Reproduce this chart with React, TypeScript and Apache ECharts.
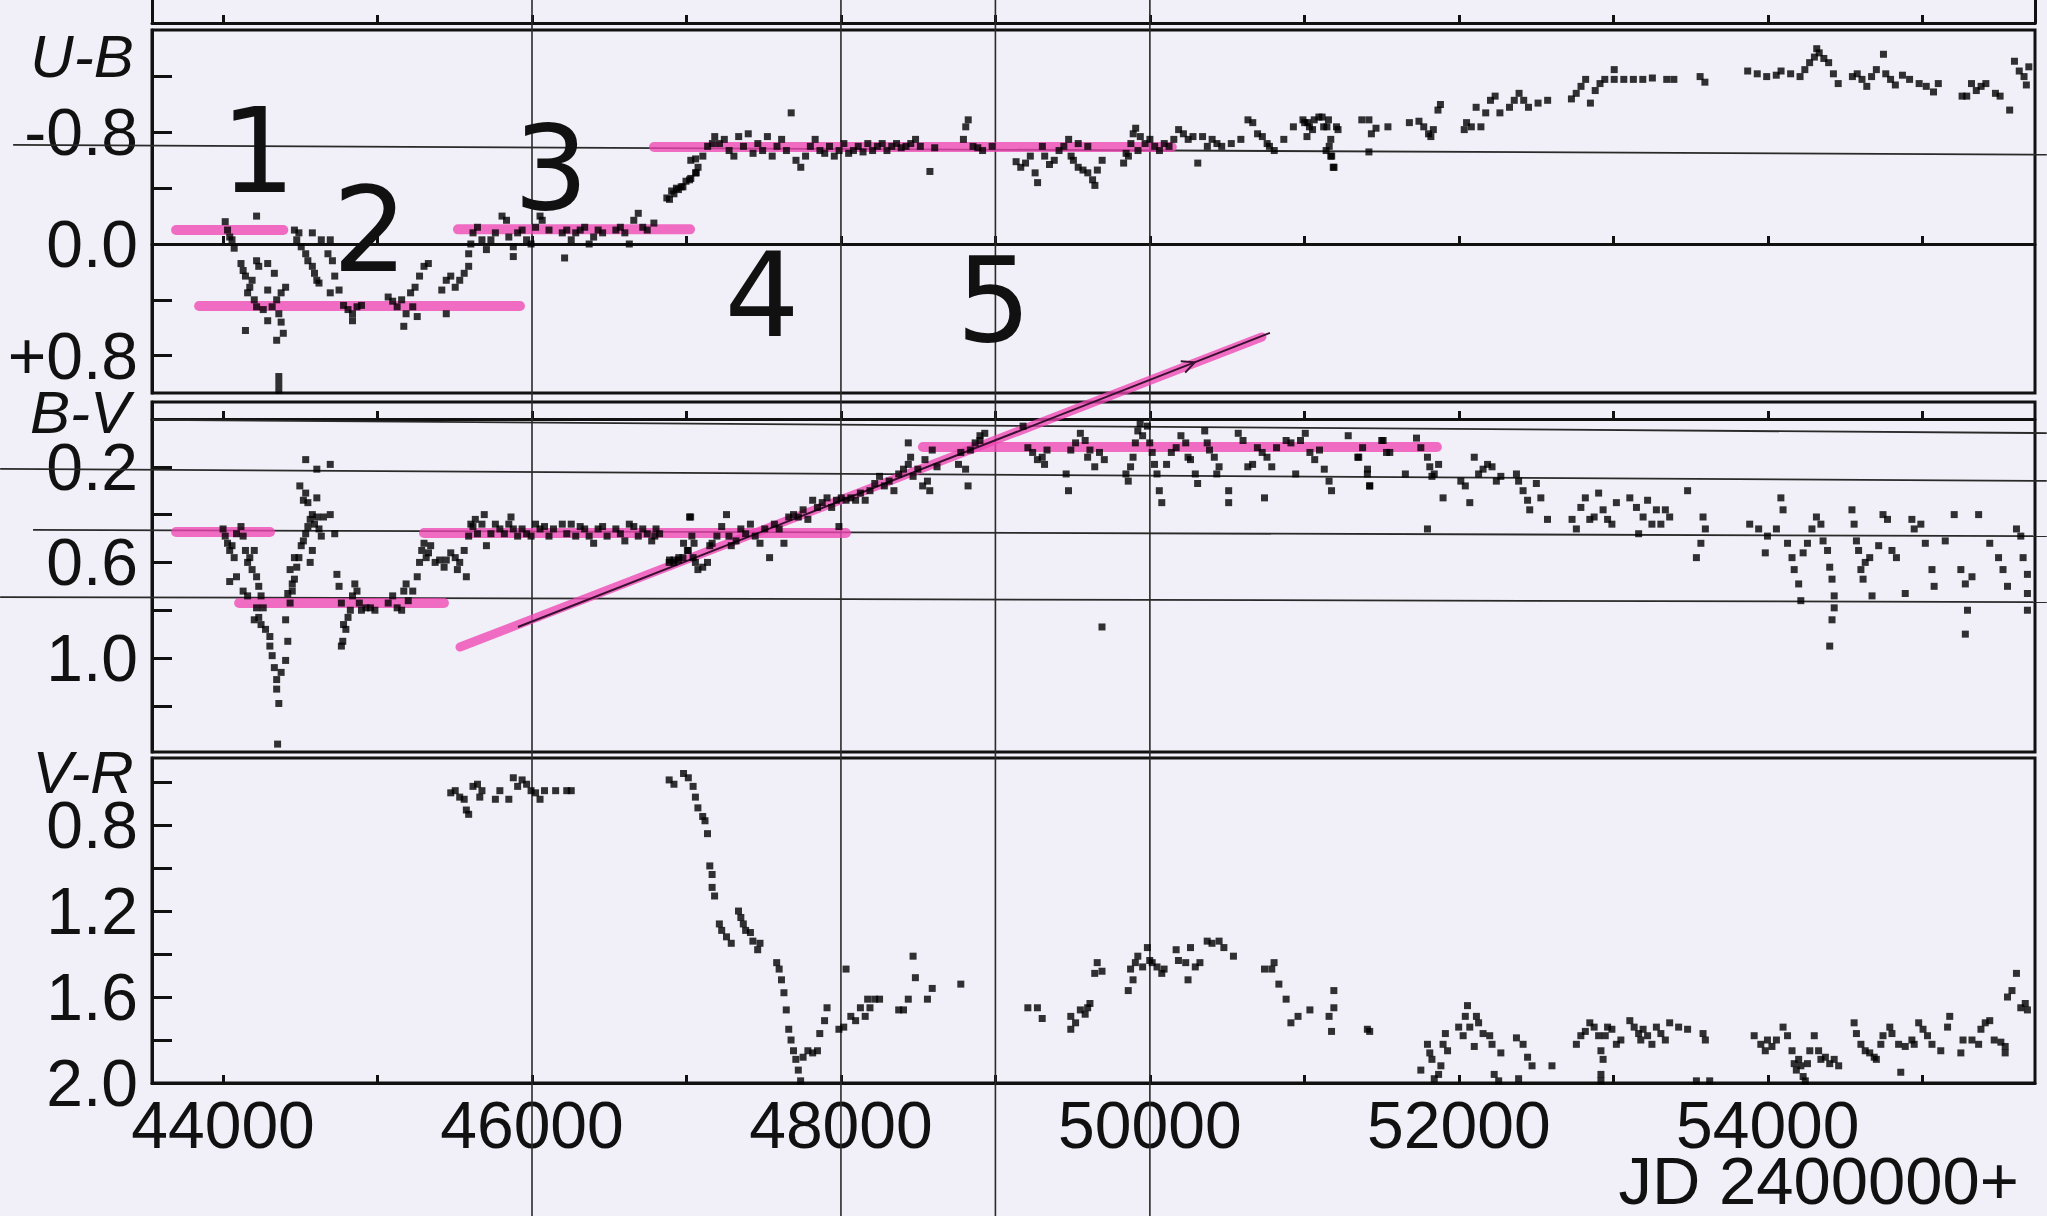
import React, { useEffect, useRef } from "react";
import * as echarts from "echarts";

// ---------- axes ----------
const X_MIN = 43540;
const X_MAX = 55730;
const xTickValues = [44000, 45000, 46000, 47000, 48000, 49000, 50000, 51000, 52000, 53000, 54000, 55000];
const xLabelValues = [44000, 46000, 48000, 50000, 52000, 54000];

const ubRange = [-1.534, 1.068];
const ubTicks = [-1.2, -0.8, -0.4, 0, 0.4, 0.8];
const ubLabels = [-0.8, 0, 0.8];
const bvRange = [-0.071, 1.393];
const bvTicks = [0, 0.2, 0.4, 0.6, 0.8, 1.0, 1.2];
const bvLabels = [0.2, 0.6, 1.0];
const vrRange = [0.488, 2.0];
const vrTicks = [0.6, 0.8, 1.0, 1.2, 1.4, 1.6, 1.8, 2.0];
const vrLabels = [0.8, 1.2, 1.6, 2.0];

// ---------- U-B data [JD-2400000, U-B] ----------
const ubEarly = [
  [44014, -0.16], [44029, -0.1], [44043, -0.05], [44058, -0.03], [44072, 0.03], [44217, -0.2], [44116, 0.14], [44130, 0.19],
  [44145, 0.23], [44173, 0.31], [44159, 0.35], [44202, 0.4], [44217, 0.45], [44145, 0.62], [44260, 0.47], [44289, 0.55],
  [44318, 0.45], [44347, 0.4], [44376, 0.35], [44405, 0.31], [44361, 0.5], [44376, 0.56], [44390, 0.64], [44347, 0.69],
  [44361, 0.95], [44361, 1.0], [44361, 1.05], [44231, 0.16], [44217, 0.12], [44289, 0.14], [44332, 0.21], [44188, 0.26],
  [44289, 0.33], [44462, -0.1], [44491, -0.08], [44477, -0.03], [44506, 0.02], [44535, 0.07], [44549, 0.12], [44578, 0.16],
  [44592, 0.21], [44607, 0.26], [44621, 0.28], [44578, -0.08], [44636, -0.03], [44694, -0.03], [44679, 0.07], [44708, 0.12],
  [44723, 0.23], [44694, 0.35], [44751, 0.33], [44780, 0.44], [44809, 0.47], [44838, 0.5], [44867, 0.45], [44896, 0.44],
  [44838, 0.55], [45069, 0.38], [45098, 0.41], [45127, 0.45], [45156, 0.4], [45185, 0.5], [45214, 0.35], [45243, 0.31],
  [45272, 0.23], [45301, 0.16], [45329, 0.14], [45228, 0.45], [45257, 0.52], [45170, 0.59], [45416, 0.33], [45445, 0.26],
  [45474, 0.23], [45503, 0.31], [45532, 0.26], [45561, 0.21], [45590, 0.16], [45445, 0.5], [45590, 0.07], [45604, 0.0],
  [45618, -0.08], [45647, -0.12], [45676, -0.03], [45705, 0.04], [45734, -0.03], [45763, -0.08], [45806, -0.2], [45835, -0.17],
  [45850, -0.05], [45879, 0.02], [45907, -0.08], [45936, -0.1], [45965, -0.03], [45994, 0.0], [46023, -0.12], [46052, -0.2],
  [46066, -0.17], [46110, -0.1], [46196, -0.08], [46225, -0.1], [46254, -0.03], [46283, -0.08], [46312, -0.1], [46341, -0.12],
  [46370, 0.0], [46399, -0.05], [46428, -0.1], [46457, -0.08], [46543, -0.1], [46572, -0.12], [46601, -0.08], [46630, 0.0],
  [46659, -0.17], [46688, -0.22], [46717, -0.12], [46746, -0.1], [46789, -0.15], [46211, 0.1], [45879, 0.09],
];
const ubMid = [
  [46890, -0.32], [46919, -0.36], [46948, -0.39], [46977, -0.41], [47020, -0.46], [47063, -0.51],
  [46873, -0.33], [46904, -0.38], [46935, -0.4], [46966, -0.41], [46997, -0.45], [47028, -0.47], [47059, -0.51], [47075, -0.55],
  [47028, -0.6], [47059, -0.61], [47106, -0.63], [47137, -0.7], [47183, -0.77], [47168, -0.72], [47214, -0.72], [47245, -0.75],
  [47276, -0.67], [47307, -0.63], [47338, -0.77], [47369, -0.7], [47400, -0.79], [47431, -0.65], [47462, -0.72], [47493, -0.67],
  [47524, -0.77], [47555, -0.63], [47586, -0.7], [47616, -0.75], [47647, -0.67], [47678, -0.94], [47709, -0.6], [47740, -0.55],
  [47771, -0.63], [47802, -0.7], [47833, -0.75], [47864, -0.67], [47895, -0.65], [47926, -0.7], [47957, -0.63], [47988, -0.67],
  [48019, -0.72], [48050, -0.65], [48081, -0.67], [48112, -0.7], [48143, -0.66], [48174, -0.72], [48205, -0.67], [48236, -0.7],
  [48267, -0.72], [48298, -0.67], [48329, -0.7], [48360, -0.72], [48390, -0.69], [48421, -0.7], [48452, -0.72], [48483, -0.75],
  [48514, -0.7], [48576, -0.52], [48607, -0.69], [48793, -0.75], [48808, -0.84], [48824, -0.89], [48855, -0.7], [48886, -0.69],
  [48917, -0.67], [48979, -0.7], [49134, -0.59], [49164, -0.55], [49195, -0.58], [49226, -0.63], [49257, -0.51], [49273, -0.44],
  [49304, -0.7], [49319, -0.63], [49350, -0.57], [49381, -0.6], [49412, -0.67], [49443, -0.7], [49474, -0.75], [49490, -0.63],
  [49505, -0.6], [49536, -0.55], [49567, -0.53], [49598, -0.51], [49629, -0.46], [49644, -0.42], [49660, -0.53], [49691, -0.6],
  [49536, -0.72], [49598, -0.7], [49830, -0.58], [49846, -0.65], [49877, -0.72], [49892, -0.79], [49908, -0.83], [49938, -0.77],
  [49969, -0.72], [50000, -0.75], [50031, -0.7], [50062, -0.67], [50093, -0.72], [50124, -0.7], [50155, -0.75], [49861, -0.63],
  [49923, -0.67], [50186, -0.82], [50217, -0.79], [50248, -0.75], [50279, -0.77], [50310, -0.58], [50341, -0.77], [50372, -0.7],
  [50403, -0.75], [50434, -0.72], [50465, -0.7], [50527, -0.72], [50589, -0.75], [50635, -0.89], [50666, -0.87], [50697, -0.79],
  [50728, -0.77], [50759, -0.72], [50774, -0.7], [50805, -0.67], [50867, -0.75], [50929, -0.84], [50991, -0.89], [51022, -0.87],
  [51053, -0.82], [51115, -0.91], [51146, -0.84], [51161, -0.7], [51177, -0.63], [51192, -0.55], [51208, -0.84],
];
const ubLate = [
  [51002, -0.87], [51033, -0.84], [51017, -0.77], [51064, -0.89], [51094, -0.91], [51125, -0.84], [51141, -0.67], [51171, -0.63],
  [51187, -0.55], [51156, -0.89], [51171, -0.75], [51218, -0.82], [51372, -0.89], [51418, -0.89], [51434, -0.79], [51418, -0.66],
  [51464, -0.83], [51541, -0.84], [51680, -0.87], [51742, -0.88], [51773, -0.84], [51804, -0.79], [51835, -0.82], [51865, -0.96],
  [51881, -1.0], [51819, -0.77], [52035, -0.82], [52050, -0.87], [52081, -0.84], [52112, -0.98], [52143, -0.84], [52174, -0.94],
  [52205, -1.03], [52235, -1.06], [52266, -0.94], [52328, -0.98], [52359, -1.03], [52390, -1.08], [52420, -1.03], [52451, -0.98],
  [52513, -1.01], [52575, -1.03], [52729, -1.04], [52760, -1.08], [52791, -1.13], [52821, -1.18], [52852, -1.01], [52883, -1.1],
  [52914, -1.15], [52945, -1.18], [53006, -1.25], [53006, -1.18], [53068, -1.18], [53130, -1.18], [53191, -1.18], [53253, -1.19],
  [53346, -1.18], [53392, -1.18], [53562, -1.2], [53593, -1.16], [53870, -1.24], [53932, -1.22], [53993, -1.2], [54055, -1.21],
  [54086, -1.24], [54148, -1.22], [54209, -1.2], [54240, -1.25], [54271, -1.3], [54302, -1.34], [54317, -1.4], [54333, -1.37],
  [54363, -1.33], [54394, -1.3], [54425, -1.22], [54456, -1.15], [54548, -1.2], [54579, -1.22], [54610, -1.18], [54641, -1.13],
  [54672, -1.2], [54703, -1.25], [54749, -1.36], [54764, -1.22], [54795, -1.18], [54826, -1.14], [54872, -1.21], [54918, -1.18],
  [54980, -1.15], [55026, -1.13], [55073, -1.09], [55104, -1.15], [55258, -1.06], [55288, -1.06], [55319, -1.15], [55350, -1.1],
  [55381, -1.13], [55412, -1.15], [55474, -1.08], [55504, -1.06], [55566, -0.96], [55597, -1.31], [55628, -1.24], [55659, -1.2],
  [55690, -1.27], [55674, -1.14],
];

// ---------- B-V data ----------
const bvEarly = [
  [44000, 0.46], [44014, 0.49], [44029, 0.52], [44043, 0.55], [44058, 0.53], [44072, 0.58], [44087, 0.48], [44116, 0.45],
  [44130, 0.49], [44145, 0.55], [44159, 0.6], [44173, 0.58], [44188, 0.63], [44202, 0.55], [44217, 0.66], [44231, 0.7],
  [44246, 0.74], [44260, 0.79], [44217, 0.79], [44043, 0.68], [44087, 0.66], [44130, 0.72], [44159, 0.74], [44202, 0.84],
  [44231, 0.83], [44246, 0.86], [44275, 0.88], [44303, 0.91], [44303, 0.95], [44318, 0.99], [44332, 1.04], [44347, 1.09],
  [44347, 1.13], [44361, 1.19], [44353, 1.36], [44376, 1.06], [44405, 1.01], [44419, 0.93], [44405, 0.84], [44434, 0.77],
  [44448, 0.72], [44462, 0.67], [44477, 0.62], [44491, 0.58], [44506, 0.53], [44520, 0.51], [44535, 0.48], [44549, 0.45],
  [44564, 0.42], [44578, 0.4], [44592, 0.44], [44607, 0.41], [44621, 0.46], [44636, 0.49], [44650, 0.41], [44694, 0.4],
  [44723, 0.48], [44520, 0.34], [44535, 0.31], [44549, 0.35], [44607, 0.33], [44497, 0.28], [44535, 0.17], [44607, 0.21],
  [44694, 0.19], [44564, 0.6], [44578, 0.55], [44462, 0.58], [44434, 0.63], [44448, 0.69], [44419, 0.73], [44737, 0.65],
  [44751, 0.7], [44766, 0.77], [44780, 0.86], [44795, 0.88], [44775, 0.93], [44766, 0.95], [44809, 0.83], [44824, 0.8],
  [44838, 0.74], [44853, 0.69], [44867, 0.72], [44882, 0.77], [44896, 0.8], [44925, 0.79], [44954, 0.79], [44983, 0.8],
  [45069, 0.77], [45098, 0.74], [45127, 0.79], [45156, 0.8], [45170, 0.72], [45185, 0.69], [45199, 0.76], [45228, 0.72],
  [45257, 0.66], [45272, 0.6], [45286, 0.55], [45301, 0.52], [45315, 0.58], [45330, 0.56], [45344, 0.53], [45373, 0.6],
  [45402, 0.59], [45431, 0.62], [45445, 0.59], [45474, 0.56], [45503, 0.58], [45517, 0.63], [45532, 0.6], [45561, 0.55],
  [45575, 0.66], [45590, 0.49], [45604, 0.44], [45618, 0.45], [45633, 0.42], [45647, 0.48], [45676, 0.44], [45691, 0.4],
  [45705, 0.53], [45734, 0.48], [45763, 0.44], [45792, 0.46], [45821, 0.48], [45850, 0.44], [45864, 0.41], [45879, 0.46],
  [45907, 0.49], [45936, 0.46], [45965, 0.48], [45994, 0.49], [46023, 0.44], [46052, 0.46], [46081, 0.45], [46110, 0.49],
  [46139, 0.46], [46196, 0.44], [46225, 0.48], [46254, 0.44], [46283, 0.49], [46312, 0.45], [46341, 0.46], [46370, 0.49],
  [46399, 0.52], [46428, 0.46], [46457, 0.45], [46486, 0.49], [46543, 0.46], [46572, 0.48], [46601, 0.51], [46630, 0.44],
  [46659, 0.45], [46688, 0.49], [46717, 0.46], [46746, 0.48], [46775, 0.51], [46803, 0.46], [46890, 0.59], [46919, 0.6],
  [46948, 0.59], [46977, 0.58], [47006, 0.55], [47020, 0.41], [47035, 0.49], [47049, 0.52],
];
const bvMid = [
  [46795, 0.49], [46826, 0.48], [46888, 0.6], [46919, 0.59], [46950, 0.58], [46981, 0.52], [47012, 0.55], [47027, 0.41],
  [47043, 0.58], [47058, 0.6], [47074, 0.63], [47105, 0.62], [47136, 0.6], [47151, 0.53], [47166, 0.52], [47197, 0.49],
  [47228, 0.45], [47259, 0.4], [47275, 0.49], [47290, 0.53], [47321, 0.51], [47352, 0.46], [47383, 0.48], [47414, 0.44],
  [47445, 0.49], [47476, 0.52], [47507, 0.46], [47538, 0.58], [47569, 0.44], [47600, 0.46], [47631, 0.52], [47662, 0.41],
  [47693, 0.4], [47724, 0.41], [47755, 0.38], [47786, 0.42], [47817, 0.34], [47848, 0.37], [47879, 0.35], [47910, 0.33],
  [47940, 0.37], [47971, 0.34], [47987, 0.45], [48002, 0.33], [48033, 0.34], [48064, 0.33], [48095, 0.34], [48126, 0.31],
  [48157, 0.34], [48188, 0.3], [48219, 0.27], [48250, 0.24], [48281, 0.28], [48312, 0.26], [48343, 0.3], [48374, 0.23],
  [48405, 0.21], [48436, 0.19], [48451, 0.16], [48467, 0.24], [48498, 0.21], [48529, 0.28], [48544, 0.17], [48560, 0.26],
  [48575, 0.3], [48591, 0.13], [48622, 0.2], [48436, 0.1], [48761, 0.19], [48776, 0.14], [48807, 0.21], [48823, 0.28],
  [48838, 0.13], [48869, 0.1], [48900, 0.07], [48931, 0.06], [48900, 0.09], [49179, 0.03], [49210, 0.12], [49241, 0.14],
  [49272, 0.17], [49303, 0.16], [49318, 0.19], [49334, 0.13], [49458, 0.23], [49473, 0.3], [49488, 0.13], [49519, 0.1],
  [49550, 0.06], [49581, 0.09], [49597, 0.16], [49612, 0.13], [49643, 0.2], [49674, 0.14], [49705, 0.17], [49845, 0.23],
  [49860, 0.26], [49875, 0.2], [49891, 0.16], [49906, 0.1], [49922, 0.05], [49937, 0.02], [49953, 0.07], [49984, 0.03],
  [49999, 0.1], [50015, 0.14], [50030, 0.19], [50046, 0.23], [50061, 0.3], [50077, 0.35], [50108, 0.19], [50139, 0.14],
  [50170, 0.12], [50201, 0.07], [50232, 0.1], [50247, 0.16], [50263, 0.17], [50294, 0.23], [50309, 0.27], [50355, 0.05],
  [50371, 0.1], [50386, 0.13], [50417, 0.16], [50433, 0.23], [50448, 0.2], [50510, 0.3], [50510, 0.35], [50572, 0.06],
  [50603, 0.09], [50634, 0.2], [50665, 0.19], [50696, 0.12], [50727, 0.14], [50742, 0.33], [50758, 0.16], [50789, 0.2],
  [50820, 0.12], [50882, 0.09], [50913, 0.1], [50944, 0.23], [50975, 0.09], [51006, 0.06], [51036, 0.14], [51067, 0.17],
  [51098, 0.13], [51129, 0.21], [51160, 0.26], [51176, 0.3], [51284, 0.07], [51346, 0.16], [51377, 0.12], [51408, 0.23],
  [51423, 0.28], [51501, 0.09], [51532, 0.14], [49690, 0.87],
];
const bvLate = [
  [51352, 0.16], [51409, 0.21], [51423, 0.28], [51510, 0.09], [51553, 0.14], [51654, 0.23], [51726, 0.08], [51754, 0.12],
  [51797, 0.16], [51812, 0.2], [51841, 0.23], [51869, 0.19], [51826, 0.24], [51797, 0.46], [51898, 0.33], [52013, 0.26],
  [52042, 0.28], [52071, 0.35], [52100, 0.16], [52128, 0.23], [52157, 0.21], [52186, 0.19], [52215, 0.2], [52243, 0.26],
  [52272, 0.24], [52373, 0.23], [52387, 0.26], [52416, 0.3], [52445, 0.34], [52459, 0.38], [52502, 0.27], [52531, 0.33],
  [52574, 0.42], [52733, 0.42], [52761, 0.46], [52790, 0.37], [52819, 0.33], [52848, 0.42], [52876, 0.41], [52905, 0.31],
  [52934, 0.38], [52963, 0.42], [52991, 0.44], [53020, 0.35], [53107, 0.33], [53150, 0.37], [53164, 0.48], [53193, 0.41],
  [53222, 0.34], [53250, 0.44], [53279, 0.38], [53308, 0.44], [53337, 0.38], [53365, 0.41], [53481, 0.3], [53581, 0.41],
  [53596, 0.46], [53567, 0.52], [53538, 0.58], [53883, 0.44], [53941, 0.46], [53984, 0.56], [53998, 0.49], [54056, 0.46],
  [54085, 0.33], [54099, 0.38], [54128, 0.52], [54157, 0.58], [54171, 0.63], [54200, 0.69], [54214, 0.76], [54229, 0.56],
  [54257, 0.52], [54286, 0.46], [54315, 0.41], [54344, 0.44], [54358, 0.51], [54387, 0.55], [54401, 0.62], [54416, 0.67],
  [54430, 0.74], [54430, 0.79], [54416, 0.84], [54401, 0.95], [54545, 0.38], [54559, 0.44], [54574, 0.51], [54588, 0.55],
  [54603, 0.63], [54617, 0.67], [54631, 0.6], [54660, 0.58], [54675, 0.74], [54718, 0.53], [54746, 0.4], [54775, 0.42],
  [54804, 0.55], [54833, 0.58], [54890, 0.73], [54933, 0.42], [54948, 0.46], [54991, 0.44], [55020, 0.52], [55063, 0.63],
  [55077, 0.7], [55149, 0.51], [55207, 0.4], [55250, 0.63], [55279, 0.69], [55293, 0.8], [55279, 0.9], [55322, 0.66],
  [55365, 0.4], [55437, 0.52], [55494, 0.58], [55523, 0.63], [55552, 0.7], [55610, 0.46], [55638, 0.49], [55653, 0.58],
  [55681, 0.65], [55681, 0.73], [55681, 0.8],
];

// ---------- V-R data ----------
const vrEarly = [
  [45474, 0.65], [45503, 0.64], [45532, 0.67], [45561, 0.68], [45575, 0.73], [45590, 0.75], [45618, 0.62], [45647, 0.61],
  [45662, 0.67], [45676, 0.64], [45763, 0.68], [45792, 0.64], [45850, 0.68], [45879, 0.58], [45907, 0.62], [45936, 0.59],
  [45965, 0.61], [45994, 0.64], [46023, 0.65], [46052, 0.68], [46081, 0.64], [46153, 0.64], [46225, 0.64], [46254, 0.64],
];
const vrMid = [
  [46888, 0.59], [46919, 0.61], [46981, 0.56], [47012, 0.58], [47043, 0.62], [47058, 0.67], [47074, 0.72], [47105, 0.76],
  [47120, 0.78], [47136, 0.84], [47151, 0.99], [47166, 1.03], [47166, 1.09], [47182, 1.13], [47213, 1.26], [47228, 1.29],
  [47259, 1.32], [47290, 1.35], [47337, 1.2], [47352, 1.23], [47368, 1.26], [47383, 1.29], [47414, 1.3], [47430, 1.34],
  [47461, 1.38], [47476, 1.35], [47584, 1.44], [47600, 1.47], [47615, 1.52], [47631, 1.58], [47646, 1.66], [47662, 1.75],
  [47677, 1.8], [47693, 1.85], [47708, 1.89], [47724, 1.94], [47739, 1.99], [47755, 1.88], [47786, 1.85], [47817, 1.86],
  [47848, 1.85], [47863, 1.77], [47894, 1.71], [47910, 1.65], [47987, 1.75], [48018, 1.74], [48033, 1.47], [48064, 1.69],
  [48095, 1.71], [48126, 1.65], [48157, 1.69], [48173, 1.61], [48188, 1.65], [48219, 1.61], [48250, 1.61], [48374, 1.66],
  [48405, 1.66], [48436, 1.61], [48467, 1.41], [48482, 1.51], [48560, 1.61], [48591, 1.56], [48776, 1.54], [49210, 1.65],
  [49272, 1.65], [49303, 1.7], [49488, 1.69], [49488, 1.75], [49519, 1.72], [49550, 1.66], [49581, 1.68], [49597, 1.65],
  [49612, 1.63], [49643, 1.49], [49659, 1.44], [49690, 1.48], [49860, 1.57], [49891, 1.52], [49875, 1.47], [49906, 1.44],
  [49922, 1.41], [49953, 1.46], [49984, 1.37], [49999, 1.43], [50015, 1.44], [50046, 1.46], [50077, 1.49], [50092, 1.47],
  [50170, 1.38], [50185, 1.43], [50232, 1.44], [50247, 1.52], [50263, 1.37], [50294, 1.46], [50324, 1.44], [50371, 1.34],
  [50402, 1.35], [50448, 1.34], [50479, 1.37], [50541, 1.41], [50742, 1.47], [50789, 1.47], [50804, 1.44], [50835, 1.54],
  [50882, 1.61], [50913, 1.72], [50959, 1.69], [51036, 1.66], [51160, 1.69], [51176, 1.76], [51191, 1.57], [51191, 1.65],
  [51408, 1.75], [51423, 1.76],
];
const vrLate = [
  [51754, 1.94], [51797, 1.82], [51812, 1.86], [51826, 1.89], [51841, 1.98], [51869, 1.96], [51884, 1.92], [51898, 1.82],
  [51913, 1.77], [51927, 1.85], [51999, 1.74], [52028, 1.78], [52042, 1.69], [52056, 1.64], [52071, 1.74], [52100, 1.83],
  [52114, 1.69], [52128, 1.72], [52157, 1.77], [52200, 1.78], [52215, 1.82], [52229, 1.96], [52258, 1.99], [52272, 1.86],
  [52373, 1.79], [52387, 1.98], [52416, 1.82], [52445, 1.88], [52474, 1.92], [52603, 1.92], [52761, 1.82], [52790, 1.78],
  [52819, 1.76], [52848, 1.72], [52876, 1.74], [52905, 1.78], [52920, 1.85], [52934, 1.89], [52920, 1.96], [52920, 1.99],
  [52948, 1.78], [52963, 1.74], [52991, 1.75], [53020, 1.82], [53049, 1.8], [53107, 1.71], [53135, 1.74], [53164, 1.77],
  [53178, 1.8], [53193, 1.75], [53222, 1.78], [53250, 1.82], [53279, 1.74], [53308, 1.77], [53337, 1.8], [53365, 1.72],
  [53423, 1.74], [53481, 1.75], [53538, 1.99], [53581, 1.77], [53596, 1.8], [53624, 1.99], [53912, 1.78], [53955, 1.82],
  [53984, 1.85], [53998, 1.8], [54027, 1.83], [54056, 1.8], [54099, 1.74], [54128, 1.78], [54157, 1.85], [54171, 1.91],
  [54185, 1.94], [54200, 1.89], [54214, 1.92], [54229, 1.97], [54243, 1.99], [54257, 1.91], [54272, 1.85], [54301, 1.78],
  [54329, 1.85], [54344, 1.89], [54373, 1.88], [54401, 1.91], [54430, 1.89], [54459, 1.92], [54559, 1.72], [54574, 1.77],
  [54603, 1.82], [54631, 1.85], [54660, 1.86], [54689, 1.88], [54703, 1.89], [54732, 1.82], [54746, 1.78], [54790, 1.74],
  [54804, 1.77], [54847, 1.82], [54861, 1.95], [54890, 1.83], [54933, 1.8], [54948, 1.82], [54977, 1.72], [55005, 1.75],
  [55034, 1.78], [55063, 1.82], [55120, 1.85], [55164, 1.74], [55178, 1.69], [55250, 1.86], [55264, 1.8], [55322, 1.8],
  [55365, 1.82], [55380, 1.75], [55408, 1.72], [55437, 1.71], [55466, 1.8], [55509, 1.81], [55537, 1.83], [55537, 1.86],
  [55552, 1.6], [55581, 1.57], [55610, 1.49], [55638, 1.65], [55667, 1.63], [55681, 1.66],
];

// ---------- hand-drawn annotations (in data units) ----------
const guideJD = [46000, 48000, 49000, 50000];
// [panel, jdStart, valueStart, jdEnd, valueEnd]
const ruledLines = [
  [0, 42641, -0.71, 55806, -0.64],
  [1, 43540, 0.004, 55806, 0.059],
  [1, 42557, 0.209, 55806, 0.259],
  [1, 42770, 0.464, 55806, 0.49],
  [1, 42557, 0.745, 55806, 0.766],
];
// [panel, jdStart, jdEnd, level]
const pinkLevels = [
  [0, 43696, 44390, -0.1],
  [0, 43845, 45922, 0.445],
  [0, 45521, 47023, -0.105],
  [0, 46790, 50142, -0.695],
  [1, 43696, 44304, 0.473],
  [1, 44104, 45430, 0.77],
  [1, 45301, 48032, 0.477],
  [1, 48531, 51858, 0.117],
];
const trendPink = [45534, 0.954, 50725, -0.343];
const trendInk = [45909, 0.87, 50777, -0.36];
const phaseNames = ["1", "2", "3", "4", "5"];
const phaseJD = [44227, 44951, 46123, 47489, 48990];
const phaseUB = [-0.667, -0.1, -0.545, 0.366, 0.401];

const INK = "#111111";
const BG = "#f1eff7";
const FONT = "'Liberation Sans', Arial, sans-serif";

function xAxisFor(gridIndex: number, labels: boolean) {
  return {
    type: "value",
    gridIndex,
    min: X_MIN,
    max: X_MAX,
    position: "bottom",
    axisLine: { show: true, lineStyle: { color: INK, width: 3 } },
    axisTick: { show: true, inside: true, length: 8, customValues: xTickValues, lineStyle: { color: INK, width: 3 } },
    axisLabel: {
      show: labels,
      customValues: xLabelValues,
      color: INK,
      fontSize: 66,
      fontFamily: FONT,
      margin: 9,
      formatter: (v: number) => String(v),
    },
    splitLine: { show: false },
  };
}

function yAxisFor(gridIndex: number, range: number[], ticks: number[], labels: number[], signed: boolean) {
  return {
    type: "value",
    gridIndex,
    inverse: true,
    min: range[0],
    max: range[1],
    position: "left",
    axisLine: { show: true, lineStyle: { color: INK, width: 3 } },
    axisTick: { show: true, inside: true, length: 20, customValues: ticks, lineStyle: { color: INK, width: 3 } },
    axisLabel: {
      show: true,
      customValues: labels,
      color: INK,
      fontSize: 66,
      fontFamily: FONT,
      margin: 14,
      formatter: (v: number) => (signed && v > 0 ? "+" : "") + v.toFixed(1),
    },
    splitLine: { show: false },
  };
}

function scatter(idx: number, data: number[][]) {
  return {
    type: "scatter",
    xAxisIndex: idx,
    yAxisIndex: idx,
    data,
    symbol: "rect",
    symbolSize: 7,
    itemStyle: { color: "#000" },
    z: 10,
    silent: true,
  };
}

function edgeAxis(gridIndex: number, position: string) {
  return {
    type: "value",
    gridIndex,
    position,
    min: 0,
    max: 1,
    axisLine: { show: true, onZero: false, lineStyle: { color: INK, width: 3 } },
    axisTick: { show: false },
    axisLabel: { show: false },
    splitLine: { show: false },
  };
}

export default function App() {
  const ref = useRef<HTMLDivElement>(null);
  useEffect(() => {
    const el = ref.current as HTMLDivElement;
    const chart = echarts.init(el, null, { renderer: "svg" });
    const frame = { show: true, borderColor: INK, borderWidth: 3, backgroundColor: "transparent" };
    chart.setOption({
      animation: false,
      backgroundColor: BG,
      grid: [
        { ...frame, left: 152, right: 12, top: 30, height: 363 },
        { ...frame, left: 152, right: 12, top: 402, height: 350 },
        { ...frame, left: 152, right: 12, top: 758, height: 325 },
        { show: false, left: 152, right: 12, top: 0, height: 23 },
      ],
      xAxis: [xAxisFor(0, false), xAxisFor(1, false), xAxisFor(2, true), xAxisFor(3, false)],
      yAxis: [
        yAxisFor(0, ubRange, ubTicks, ubLabels, true),
        yAxisFor(1, bvRange, bvTicks, bvLabels, false),
        yAxisFor(2, vrRange, vrTicks, vrLabels, false),
        edgeAxis(3, "left"),
        edgeAxis(3, "right"),
      ],
      series: [
        scatter(0, [...ubEarly, ...ubMid, ...ubLate]),
        scatter(1, [...bvEarly, ...bvMid, ...bvLate]),
        scatter(2, [...vrEarly, ...vrMid, ...vrLate]),
      ],
    });

    const px = (p: number, jd: number, v: number) =>
      chart.convertToPixel({ xAxisIndex: p, yAxisIndex: p }, [jd, v]) as number[];

    const g: any[] = [];
    guideJD.forEach((jd) => {
      const x = px(2, jd, 1)[0];
      g.push({ type: "line", silent: true, z: 5, shape: { x1: x, y1: 0, x2: x, y2: 1216 }, style: { stroke: "#2a2a2a", lineWidth: 1.6 } });
    });
    ruledLines.forEach(([p, j1, v1, j2, v2]) => {
      const a = px(p, j1, v1);
      const b = px(p, j2, v2);
      g.push({ type: "line", silent: true, z: 5, shape: { x1: a[0], y1: a[1], x2: b[0], y2: b[1] }, style: { stroke: "#2a2a2a", lineWidth: 1.8 } });
    });
    pinkLevels.forEach(([p, j1, j2, v]) => {
      const a = px(p, j1, v);
      const b = px(p, j2, v);
      g.push({ type: "line", silent: true, z: 6, shape: { x1: a[0], y1: a[1], x2: b[0], y2: b[1] }, style: { stroke: "rgba(238,70,180,0.78)", lineWidth: 10, lineCap: "round" } });
    });
    {
      const a = px(1, trendPink[0], trendPink[1]);
      const b = px(1, trendPink[2], trendPink[3]);
      g.push({ type: "line", silent: true, z: 6, shape: { x1: a[0], y1: a[1], x2: b[0], y2: b[1] }, style: { stroke: "rgba(238,70,180,0.78)", lineWidth: 9, lineCap: "round" } });
      const c = px(1, trendInk[0], trendInk[1]);
      const d = px(1, trendInk[2], trendInk[3]);
      g.push({ type: "line", silent: true, z: 7, shape: { x1: c[0], y1: c[1], x2: d[0], y2: d[1] }, style: { stroke: "#3a1030", lineWidth: 2 } });
      const t = 0.9;
      const hx = c[0] + (d[0] - c[0]) * t;
      const hy = c[1] + (d[1] - c[1]) * t;
      const ang = Math.atan2(d[1] - c[1], d[0] - c[0]);
      const L = 14;
      g.push({
        type: "polyline", silent: true, z: 7,
        shape: { points: [
          [hx - L * Math.cos(ang - 0.45), hy - L * Math.sin(ang - 0.45)],
          [hx, hy],
          [hx - L * Math.cos(ang + 0.45), hy - L * Math.sin(ang + 0.45)],
        ] },
        style: { stroke: "#3a1030", lineWidth: 2, fill: null },
      });
    }
    phaseNames.forEach((t, i) => {
      const p = px(0, phaseJD[i], phaseUB[i]);
      g.push({ type: "text", silent: true, z: 8, x: p[0], y: p[1], style: { text: t, fill: INK, fontSize: 118, fontFamily: "'DejaVu Sans', sans-serif", align: "center", verticalAlign: "middle" } });
    });
    const nameStyle = { fill: INK, fontSize: 60, fontStyle: "italic", fontFamily: FONT, align: "center", verticalAlign: "middle" };
    g.push({ type: "text", silent: true, z: 8, x: 82, y: 56, style: { ...nameStyle, text: "U-B" } });
    g.push({ type: "text", silent: true, z: 8, x: 80, y: 412, style: { ...nameStyle, text: "B-V" } });
    g.push({ type: "text", silent: true, z: 8, x: 83, y: 772, style: { ...nameStyle, text: "V-R" } });
    g.push({ type: "text", silent: true, z: 8, x: 2019, y: 1180, style: { text: "JD 2400000+", fill: INK, fontSize: 67, fontFamily: FONT, align: "right", verticalAlign: "middle" } });

    chart.setOption({ graphic: g });
    return () => chart.dispose();
  }, []);
  return <div ref={ref} style={{ position: "absolute", left: 0, top: 0, width: 2047, height: 1216 }} />;
}
